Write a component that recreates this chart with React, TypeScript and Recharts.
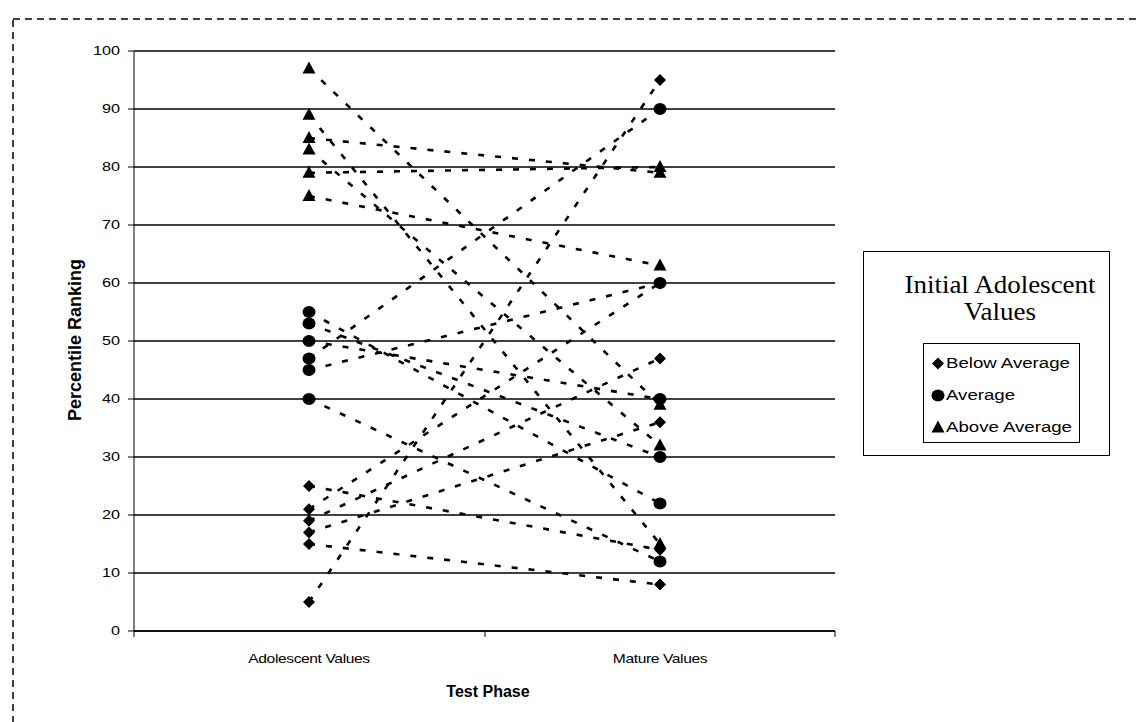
import React from "react";
import { CartesianGrid, Line, LineChart, XAxis, YAxis } from "recharts";

// Test phases (category axis)
const phases = ["Adolescent Values", "Mature Values"];

// Percentile rankings, one pair (adolescent -> mature) per subject
const belowAdolescent = [25, 21, 19, 17, 15, 5];
const belowMature = [14, 60, 47, 36, 8, 95];
const averageAdolescent = [55, 53, 50, 47, 45, 40];
const averageMature = [22, 30, 40, 90, 60, 12];
const aboveAdolescent = [97, 89, 85, 83, 79, 75];
const aboveMature = [39, 15, 79, 32, 80, 63];

const yTicks = [0, 10, 20, 30, 40, 50, 60, 70, 80, 90, 100];

type Group = { name: string; shape: "diamond" | "circle" | "triangle"; start: number[]; end: number[] };

const groups: Group[] = [
  { name: "below", shape: "diamond", start: belowAdolescent, end: belowMature },
  { name: "average", shape: "circle", start: averageAdolescent, end: averageMature },
  { name: "above", shape: "triangle", start: aboveAdolescent, end: aboveMature },
];

const data = phases.map((phase, i) => {
  const row: Record<string, string | number> = { phase };
  groups.forEach((g) => {
    g.start.forEach((v, j) => {
      row[`${g.name}${j}`] = i === 0 ? v : g.end[j];
    });
  });
  return row;
});

const HALF_BAND = 175;
const SANS = "'Liberation Sans', Arial, sans-serif";

function Marker({ shape, cx, cy }: { shape: string; cx: number; cy: number }) {
  if (shape === "circle") return <ellipse cx={cx} cy={cy} rx={6.5} ry={6} fill="#000" />;
  if (shape === "triangle")
    return <path d={`M${cx},${cy - 7} L${cx + 6.5},${cy + 5} L${cx - 6.5},${cy + 5} Z`} fill="#000" />;
  return <path d={`M${cx},${cy - 6} L${cx + 6},${cy} L${cx},${cy + 6} L${cx - 6},${cy} Z`} fill="#000" />;
}

function YTick(props: any) {
  const { x, y, payload } = props;
  return (
    <text
      transform={`translate(${x},${y}) scale(1.35,1)`}
      textAnchor="end"
      dy={4}
      fontSize={12}
      fontFamily={SANS}
      fill="#000"
    >
      {payload.value}
    </text>
  );
}

function XTick(props: any) {
  const { x, y, payload, index } = props;
  const axisY = y - 22;
  return (
    <g>
      <line x1={x - HALF_BAND} x2={x - HALF_BAND} y1={axisY} y2={axisY + 6} stroke="#000" />
      {index === phases.length - 1 && (
        <line x1={x + HALF_BAND} x2={x + HALF_BAND} y1={axisY} y2={axisY + 6} stroke="#000" />
      )}
      <text
        transform={`translate(${x},${y}) scale(1.3,1)`}
        textAnchor="middle"
        dy={10}
        fontSize={12}
        fontFamily={SANS}
        fill="#000"
        letterSpacing={-0.3}
      >
        {payload.value}
      </text>
    </g>
  );
}

function LegendRow({ shape, label }: { shape: string; label: string }) {
  return (
    <div style={{ height: 32, display: "flex", alignItems: "center" }}>
      <svg width={14} height={14} style={{ marginRight: 1 }}>
        <Marker shape={shape} cx={7} cy={7.5} />
      </svg>
      <span
        style={{
          display: "inline-block",
          fontFamily: SANS,
          fontSize: 14,
          transform: "scaleX(1.33)",
          transformOrigin: "left center",
          whiteSpace: "nowrap",
        }}
      >
        {label}
      </span>
    </div>
  );
}

export default function App() {
  return (
    <div style={{ position: "absolute", left: 0, top: 0, width: 1138, height: 722, background: "#fff", overflow: "hidden" }}>
      <svg width={1138} height={722} style={{ position: "absolute", left: 0, top: 0 }}>
        <rect x={13} y={19} width={1300} height={900} fill="none" stroke="#000" strokeWidth={1.5} strokeDasharray="7 5" />
      </svg>

      <div style={{ position: "absolute", left: 0, top: 0 }}>
        <LineChart width={1138} height={722} data={data} margin={{ top: 51, right: 303, bottom: 61, left: 84 }}>
          <CartesianGrid vertical={false} stroke="#000" strokeWidth={1.5} />
          <XAxis
            dataKey="phase"
            padding={{ left: HALF_BAND, right: HALF_BAND }}
            tickLine={false}
            tickSize={0}
            tickMargin={22}
            height={30}
            axisLine={{ stroke: "#000", strokeWidth: 1.5 }}
            tick={<XTick />}
            interval={0}
          />
          <YAxis
            domain={[0, 100]}
            ticks={yTicks}
            width={50}
            tickSize={6}
            tickMargin={8}
            tickLine={{ stroke: "#000" }}
            axisLine={{ stroke: "#000" }}
            tick={<YTick />}
            interval={0}
          />
          {groups.map((g) =>
            g.start.map((_, j) => (
              <Line
                key={`${g.name}${j}`}
                type="linear"
                dataKey={`${g.name}${j}`}
                stroke="#000"
                strokeWidth={2.6}
                strokeDasharray="6 11"
                isAnimationActive={false}
                activeDot={false}
                dot={(p: any) => <Marker key={`${g.name}${j}-${p.index}`} shape={g.shape} cx={p.cx} cy={p.cy} />}
              />
            ))
          )}
        </LineChart>
      </div>

      <div
        style={{
          position: "absolute",
          left: 75,
          top: 340,
          transform: "translate(-50%, -50%) rotate(-90deg)",
          fontFamily: SANS,
          fontWeight: "bold",
          fontSize: 18,
          whiteSpace: "nowrap",
        }}
      >
        Percentile Ranking
      </div>
      <div
        style={{
          position: "absolute",
          left: 488,
          top: 692,
          transform: "translate(-50%, -50%)",
          fontFamily: SANS,
          fontWeight: "bold",
          fontSize: 16,
          whiteSpace: "nowrap",
        }}
      >
        Test Phase
      </div>

      <div
        style={{
          position: "absolute",
          left: 863,
          top: 251,
          width: 247,
          height: 205,
          border: "1.5px solid #000",
          boxSizing: "border-box",
        }}
      />
      <div
        style={{
          position: "absolute",
          left: 1000,
          top: 271,
          transform: "translateX(-50%) scaleX(1.08)",
          fontFamily: "'Liberation Serif', 'Times New Roman', serif",
          fontSize: 25,
          lineHeight: "27px",
          textAlign: "center",
          whiteSpace: "nowrap",
        }}
      >
        Initial Adolescent
        <br />
        Values
      </div>
      <div
        style={{
          position: "absolute",
          left: 923,
          top: 343,
          width: 157,
          height: 100,
          border: "1px solid #000",
          boxSizing: "border-box",
          paddingLeft: 7,
          paddingTop: 3,
        }}
      >
        <LegendRow shape="diamond" label="Below Average" />
        <LegendRow shape="circle" label="Average" />
        <LegendRow shape="triangle" label="Above Average" />
      </div>
    </div>
  );
}
